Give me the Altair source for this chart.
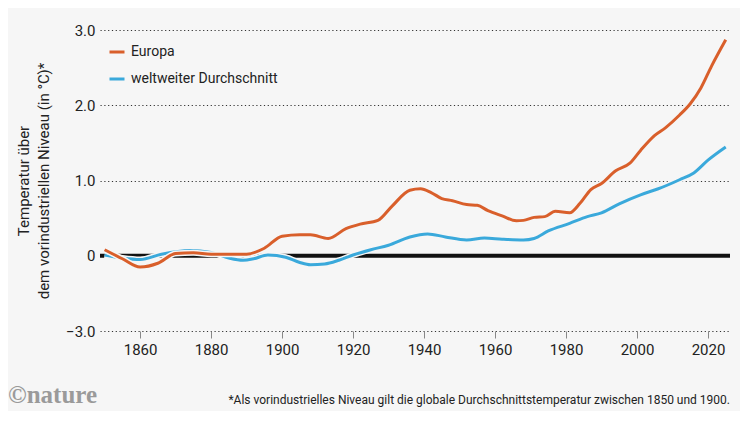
import altair as alt
import pandas as pd

# --- data ---
eu_years = [1850, 1855, 1860, 1865, 1870, 1875, 1880, 1885, 1890, 1895, 1900, 1905, 1908,
            1913, 1918, 1922, 1927, 1931, 1936, 1939, 1942, 1945, 1948, 1952, 1955, 1958,
            1962, 1966, 1968, 1971, 1974, 1977, 1981, 1984, 1987, 1990, 1994, 1998, 2001,
            2005, 2008, 2012, 2015, 2018, 2021, 2025]
eu_values = [0.08, -0.04, -0.15, -0.10, 0.03, 0.04, 0.02, 0.02, 0.02, 0.10, 0.26, 0.28, 0.28,
             0.23, 0.36, 0.42, 0.47, 0.66, 0.87, 0.89, 0.84, 0.76, 0.73, 0.68, 0.67, 0.60,
             0.53, 0.465, 0.47, 0.51, 0.52, 0.59, 0.57, 0.70, 0.88, 0.96, 1.13, 1.23, 1.40,
             1.60, 1.70, 1.87, 2.02, 2.23, 2.52, 2.87]

gl_years = [1850, 1855, 1860, 1866, 1874, 1880, 1885, 1889, 1892, 1896, 1901, 1905, 1908,
            1912, 1916, 1920, 1925, 1930, 1936, 1941, 1946, 1952, 1957, 1962, 1968, 1971,
            1975, 1981, 1986, 1990, 1995, 2001, 2006, 2012, 2016, 2020, 2025]
gl_values = [0.01, -0.03, -0.05, 0.02, 0.07, 0.045, -0.03, -0.06, -0.04, 0.01, -0.02, -0.09,
             -0.12, -0.11, -0.06, 0.01, 0.08, 0.14, 0.25, 0.29, 0.25, 0.21, 0.235, 0.22, 0.21,
             0.23, 0.33, 0.43, 0.52, 0.57, 0.69, 0.81, 0.89, 1.01, 1.10, 1.27, 1.445]

series_names = ["Europa", "weltweiter Durchschnitt"]
series_colors = ["#d95f2b", "#3aa9db"]

y_ticks = [-1, 0, 1, 2, 3]
x_ticks = [1860, 1880, 1900, 1920, 1940, 1960, 1980, 2000, 2020]

y_title = ["Temperatur über", "dem vorindustriellen Niveau (in °C)*"]
footnote = "*Als vorindustrielles Niveau gilt die globale Durchschnittstemperatur zwischen 1850 und 1900."
logo = "©nature"

BG = "#f6f6f6"
FONT = "Roboto"

eu = pd.DataFrame({"year": eu_years, "value": eu_values, "series": series_names[0]})
gl = pd.DataFrame({"year": gl_years, "value": gl_values, "series": series_names[1]})
df = pd.concat([eu, gl], ignore_index=True)

x_enc = alt.X("year:Q", scale=alt.Scale(domain=[1848.7, 2026.2], nice=False, zero=False),
              axis=alt.Axis(values=x_ticks, format="d", title=None, grid=False, domain=False,
                            ticks=True, tickColor="#888", tickSize=7, tickWidth=1,
                            labelFont=FONT, labelFontSize=15, labelColor="#222",
                            labelPadding=4))
y_enc = alt.Y("value:Q", scale=alt.Scale(domain=[-1, 3], nice=False, zero=False),
              axis=alt.Axis(values=y_ticks, title=y_title, domain=False, ticks=False,
                            labelExpr="datum.value == -1 ? '\u22123.0' : (datum.value == 0 ? '0' : format(datum.value, '.1f'))",
                            labelFont=FONT, labelFontSize=15, labelColor="#222",
                            labelPadding=5, grid=True, gridDash=[1.2, 2.6],
                            gridColor="#333", gridWidth=1,
                            titleFont=FONT, titleFontSize=15, titleFontWeight="normal",
                            titleColor="#222", titlePadding=14, titleLineHeight=20))

color_enc = alt.Color("series:N",
                      scale=alt.Scale(domain=series_names, range=series_colors),
                      legend=alt.Legend(orient="none", legendX=8, legendY=13, title=None,
                                        symbolType="stroke", symbolSize=225,
                                        symbolStrokeWidth=3, labelFont=FONT,
                                        labelFontSize=14, labelColor="#222",
                                        rowPadding=11, labelOffset=5))

base = alt.Chart(df)

zero = alt.Chart(pd.DataFrame({"v": [0]})).mark_rule(color="#111", strokeWidth=4).encode(
    y=alt.Y("v:Q", scale=alt.Scale(domain=[-1, 3], nice=False, zero=False))
)

def series_layers(name):
    sub = base.transform_filter(alt.datum.series == name)
    halo = sub.mark_line(color=BG, strokeWidth=6, interpolate="monotone").encode(
        x=x_enc, y=y_enc, detail="series:N")
    line = sub.mark_line(strokeWidth=3, interpolate="monotone").encode(
        x=x_enc, y=y_enc, color=color_enc)
    return [halo, line]

texts = alt.Chart(pd.DataFrame({"t": [footnote]})).mark_text(
    align="right", baseline="alphabetic", font=FONT, fontSize=12, color="#222"
).encode(text="t:N", x=alt.value(630), y=alt.value(374))

logo_t = alt.Chart(pd.DataFrame({"t": [logo]})).mark_text(
    align="left", baseline="alphabetic", font="Liberation Serif", fontSize=25,
    fontWeight="bold", color="#9a9a9a"
).encode(text="t:N", x=alt.value(-92), y=alt.value(373))

chart = alt.layer(
    zero, *series_layers(series_names[1]), *series_layers(series_names[0]), texts, logo_t
).properties(
    width=630, height=301,
    autosize=alt.AutoSizeParams(type="none"),
    padding={"left": 92, "top": 22, "right": 10, "bottom": 80},
    background=BG,
).configure_view(stroke=None)

chart.save("out.html", embed_options={"renderer": "svg", "actions": False})
